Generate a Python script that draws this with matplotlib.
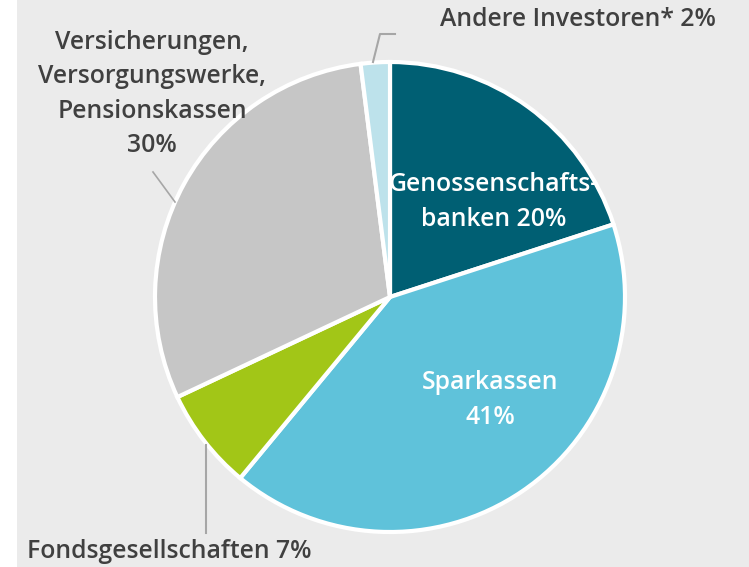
import matplotlib
matplotlib.use("Agg")
import matplotlib.pyplot as plt
from matplotlib.patches import Rectangle

labels = ["Genossenschafts-\nbanken 20%", "Sparkassen\n41%", "Fondsgesellschaften 7%",
          "Versicherungen,\nVersorgungswerke,\nPensionskassen\n30%", "Andere Investoren* 2%"]
values = [20, 41, 7, 30, 2]
colors = ["#005f73", "#5fc2da", "#a2c617", "#c6c6c6", "#bde2eb"]

W, H = 749, 567
fig = plt.figure(figsize=(W / 100, H / 100), dpi=100, facecolor="white")
ax = fig.add_axes([0, 0, 1, 1])
ax.set_xlim(0, W)
ax.set_ylim(H, 0)
ax.set_aspect("equal")
ax.axis("off")
ax.add_patch(Rectangle((17, 0), W - 17, H, facecolor="#ebebeb", edgecolor="none", zorder=0))

cx, cy, r = 390, 297, 235
wedges, _ = ax.pie(values, colors=colors, startangle=-90, counterclock=True,
                   center=(cx, cy), radius=r, frame=True,
                   wedgeprops=dict(edgecolor="white", linewidth=3))
ax.set_xlim(0, W)
ax.set_ylim(H, 0)
ax.axis("off")

font = dict(family="Open Sans", fontweight="semibold", fontsize=17.8)
dark = "#404040"

ax.text(494, 202, labels[0], ha="center", va="center", color="white",
        linespacing=1.5, **font)
ax.text(490, 400, labels[1], ha="center", va="center", color="white",
        linespacing=1.5, **font)
ax.text(27, 551, labels[2], ha="left", va="center", color=dark, **font)
ax.text(152, 94, labels[3], ha="center", va="center", color=dark,
        linespacing=1.5, **font)
ax.text(440, 20, labels[4], ha="left", va="center", color=dark, **font)

lc = "#a6a6a6"
ax.plot([206, 206], [445, 533], color=lc, lw=1.5)
ax.plot([153, 175], [172, 202], color=lc, lw=1.2)
ax.plot([373, 380, 395], [62, 34, 34], color=lc, lw=1.5)

fig.savefig("out.png", dpi=100, facecolor="white")
